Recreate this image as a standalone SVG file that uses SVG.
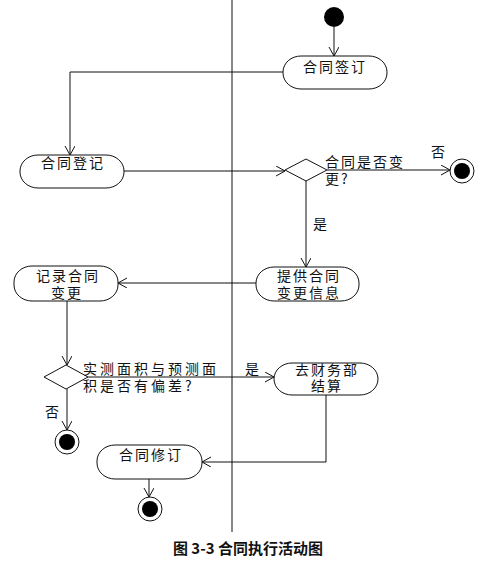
<svg xmlns="http://www.w3.org/2000/svg" width="490" height="573" viewBox="0 0 490 573">
<style>
.n{fill:#fff;stroke:#111;stroke-width:1}
.c{fill:none;stroke:#111;stroke-width:1}
.t{font-family:"Noto Sans CJK SC","Noto Sans",sans-serif;font-size:14px;fill:#111;letter-spacing:2px}
.m{text-anchor:middle}
.w{letter-spacing:3px}
.cap{font-family:"Noto Sans CJK SC","Noto Sans",sans-serif;font-size:15px;font-weight:bold;fill:#111;text-anchor:middle}
</style>
<defs>
<marker id="a" markerUnits="userSpaceOnUse" markerWidth="12" markerHeight="12" refX="9" refY="5" orient="auto">
<path d="M0,0 L9,5 L0,10" fill="none" stroke="#111" stroke-width="1"/>
</marker>
</defs>
<line x1="232" y1="0" x2="232" y2="532" stroke="#111" stroke-width="1"/>
<g id="connectors">
<path class="c" d="M334,27 L334,56" marker-end="url(#a)"/>
<path class="c" d="M283,72 L70,72 L70,155" marker-end="url(#a)"/>
<path class="c" d="M124,171 L285,171" marker-end="url(#a)"/>
<path class="c" d="M327,170 L450,170" marker-end="url(#a)"/>
<path class="c" d="M306,181 L306,267" marker-end="url(#a)"/>
<path class="c" d="M256,283 L118,283" marker-end="url(#a)"/>
<path class="c" d="M67,301 L67,365" marker-end="url(#a)"/>
<path class="c" d="M88,377 L274,377" marker-end="url(#a)"/>
<path class="c" d="M67,389 L67,430" marker-end="url(#a)"/>
<path class="c" d="M326,395 L326,462 L202,462" marker-end="url(#a)"/>
<path class="c" d="M149,479 L149,497" marker-end="url(#a)"/>
</g>
<g id="start"><circle cx="334" cy="17" r="10" fill="#000"/></g>
<g id="n1"><rect class="n" x="283" y="56" width="104" height="33" rx="18" ry="16"/><text class="t m" x="335" y="72">合同签订</text></g>
<g id="n2"><rect class="n" x="20" y="155" width="104" height="33" rx="18" ry="16"/><text class="t m" x="73" y="168">合同登记</text></g>
<g id="d1"><polygon class="n" points="285,170 306,159 327,170 306,181"/><text class="t" x="325" y="167">合同是否变</text><text class="t" x="325" y="184">更?</text></g>
<g id="f1"><circle cx="462" cy="171" r="12" fill="#fff" stroke="#111"/><circle cx="462" cy="171" r="8" fill="#000"/></g>
<text class="t m" x="439" y="157">否</text>
<text class="t m" x="321" y="229">是</text>
<g id="n3"><rect class="n" x="256" y="267" width="103" height="34" rx="18" ry="16"/><text class="t m" x="309" y="281">提供合同</text><text class="t m" x="309" y="298">变更信息</text></g>
<g id="n4"><rect class="n" x="14" y="266" width="104" height="35" rx="18" ry="16"/><text class="t m" x="68" y="281">记录合同</text><text class="t m" x="67" y="298">变更</text></g>
<g id="d2"><polygon class="n" points="44,377 66,365 88,377 66,389"/><text class="t w" x="83" y="374">实测面积与预测面</text><text class="t w" x="83" y="391">积是否有偏差?</text></g>
<text class="t m" x="253" y="374">是</text>
<g id="n5"><rect class="n" x="274" y="363" width="104" height="32" rx="18" ry="16"/><text class="t m" x="327" y="375">去财务部</text><text class="t m" x="327" y="391">结算</text></g>
<text class="t m" x="53" y="417">否</text>
<g id="f2"><circle cx="67" cy="442" r="12" fill="#fff" stroke="#111"/><circle cx="67" cy="442" r="8" fill="#000"/></g>
<g id="n6"><rect class="n" x="97" y="445" width="105" height="34" rx="18" ry="16"/><text class="t m" x="151" y="460">合同修订</text></g>
<g id="f3"><circle cx="150" cy="509" r="12" fill="#fff" stroke="#111"/><circle cx="150" cy="509" r="8" fill="#000"/></g>
<text class="cap" x="248" y="554">图 3-3 合同执行活动图</text>
</svg>
